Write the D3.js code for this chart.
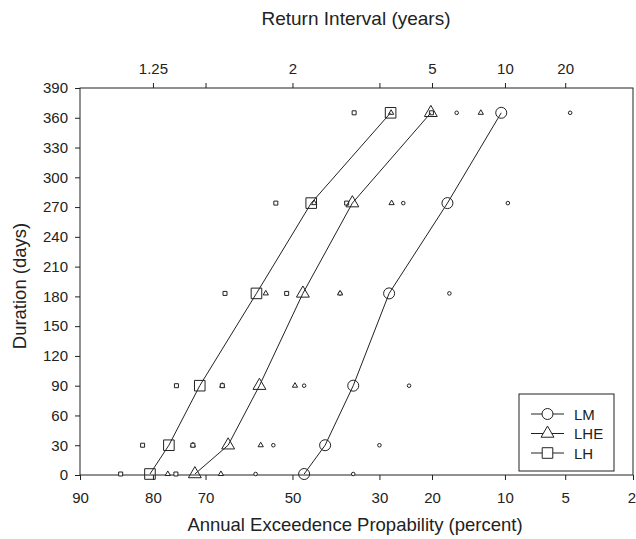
<!DOCTYPE html>
<html>
<head>
<meta charset="utf-8">
<script src="https://cdn.jsdelivr.net/npm/d3@7"></script>
<style>
  body { margin: 0; background: #fff; }
  svg text { font-family: Arial, "Liberation Sans", sans-serif; fill: #222; }
</style>
</head>
<body>
<svg width="636" height="539"></svg>
<script>
// durations (days) and annual exceedance probability (percent)
const durations = [1, 30, 90, 183, 274, 365];

const lmMain  = [47.2, 42.2, 35.7, 28.0, 17.5, 10.4];
const lmLeft  = [58.8, 54.6, 47.2, 38.7, 25.2, 16.1];
const lmRight = [35.7, 30.0, 24.1, 17.2, 9.7, 4.7];

const lheMain  = [72.2, 65.1, 57.9, 47.5, 35.9, 20.2];
const lheLeft  = [77.4, 72.6, 66.4, 56.4, 44.8, 27.6];
const lheRight = [66.7, 57.6, 49.4, 38.7, 27.5, 12.8];

const lhMain  = [80.5, 77.2, 71.2, 58.6, 45.5, 27.7];
const lhLeft  = [85.0, 81.7, 75.8, 65.8, 54.0, 35.5];
const lhRight = [75.9, 72.6, 66.4, 51.4, 37.2, 20.1];

const pctTicks = [90, 80, 70, 50, 30, 20, 10, 5, 2];
const returnTicks = [1.25, 2, 5, 10, 20];
const returnMinor = [100 / 70, 100 / 30];
const yTicks = d3.range(0, 391, 30);

(() => {

    // inverse normal cdf (Acklam)
    const probit = p => {
        const a = [-3.969683028665376e+01, 2.209460984245205e+02, -2.759285104469687e+02,
                1.383577518672690e+02, -3.066479806614716e+01, 2.506628277459239e+00],
            b = [-5.447609879822406e+01, 1.615858368580409e+02, -1.556989798598866e+02,
                6.680131188771972e+01, -1.328068155288572e+01],
            c = [-7.784894002430293e-03, -3.223964580411365e-01, -2.400758277161838e+00,
                -2.549732539343734e+00, 4.374664141464968e+00, 2.938163982698783e+00],
            d = [7.784695709041462e-03, 3.224671290700398e-01, 2.445134137142996e+00,
                3.754408661907416e+00];
        const pl = 0.02425;
        let q, r;
        if (p < pl) {
            q = Math.sqrt(-2 * Math.log(p));
            return (((((c[0]*q+c[1])*q+c[2])*q+c[3])*q+c[4])*q+c[5]) /
                ((((d[0]*q+d[1])*q+d[2])*q+d[3])*q+1);
        } else if (p <= 1 - pl) {
            q = p - 0.5; r = q * q;
            return (((((a[0]*r+a[1])*r+a[2])*r+a[3])*r+a[4])*r+a[5])*q /
                (((((b[0]*r+b[1])*r+b[2])*r+b[3])*r+b[4])*r+1);
        }
        q = Math.sqrt(-2 * Math.log(1 - p));
        return -(((((c[0]*q+c[1])*q+c[2])*q+c[3])*q+c[4])*q+c[5]) /
            ((((d[0]*q+d[1])*q+d[2])*q+d[3])*q+1);
    };
    const zOf = pct => probit(1 - pct / 100);

    const svg = d3.select('svg');
    const x0 = 80, x1 = 633, y0 = 88, y1 = 475;

    const x = d3.scaleLinear().domain([zOf(90), zOf(2)]).range([x0, x1]);
    const y = d3.scaleLinear().domain([0, 390]).range([y1, y0]);
    const px = pct => x(zOf(pct));

    const ink = '#222';

    // frame
    svg.append('rect')
        .attr('x', x0).attr('y', y0)
        .attr('width', x1 - x0).attr('height', y1 - y0)
        .attr('fill', 'none').attr('stroke', ink).attr('stroke-width', 1);

    const styleAxis = g => {
        g.select('.domain').remove();
        g.selectAll('line').attr('stroke', ink);
        g.selectAll('text').attr('font-size', 15).attr('fill', ink)
            .attr('font-family', 'Arial, "Liberation Sans", sans-serif');
    };

    const bottomAxis = svg.append('g')
        .attr('transform', `translate(0,${y1})`)
        .call(d3.axisBottom(x).tickValues(pctTicks.map(zOf))
            .tickFormat((d, i) => pctTicks[i]).tickSize(5).tickPadding(12))
        .call(styleAxis);
    // last label sits on the right edge, keep it inside
    bottomAxis.selectAll('.tick text')
        .filter((d, i) => i === pctTicks.length - 1)
        .attr('text-anchor', 'end')
        .attr('x', 2.5);

    const topVals = returnTicks.concat(returnMinor);
    svg.append('g')
        .attr('transform', `translate(0,${y0})`)
        .call(d3.axisTop(x).tickValues(topVals.map(t => zOf(100 / t)))
            .tickFormat((d, i) => i < returnTicks.length ? returnTicks[i] : '')
            .tickSize(5).tickPadding(9))
        .call(styleAxis);

    svg.append('g')
        .attr('transform', `translate(${x0},0)`)
        .call(d3.axisLeft(y).tickValues(yTicks).tickSize(5).tickPadding(7))
        .call(styleAxis);

    // axis titles
    svg.append('text')
        .attr('x', 356).attr('y', 25)
        .attr('text-anchor', 'middle').attr('font-size', 19)
        .text('Return Interval (years)');

    svg.append('text')
        .attr('x', 355).attr('y', 531)
        .attr('text-anchor', 'middle').attr('font-size', 18.5)
        .text('Annual Exceedence Propability (percent)');

    svg.append('text')
        .attr('transform', 'translate(26,286) rotate(-90)')
        .attr('text-anchor', 'middle').attr('font-size', 18.5)
        .text('Duration (days)');

    // marker shapes
    const shapes = {
        circle: d3.symbolCircle,
        triangle: d3.symbolTriangle,
        square: d3.symbolSquare
    };
    const bigSize = { circle: 95, triangle: 72, square: 112 };
    const smallSize = { circle: 10, triangle: 12, square: 16 };

    const series = [
        { name: 'LM', shape: 'circle', main: lmMain, extras: [lmLeft, lmRight] },
        { name: 'LHE', shape: 'triangle', main: lheMain, extras: [lheLeft, lheRight] },
        { name: 'LH', shape: 'square', main: lhMain, extras: [lhLeft, lhRight] }
    ];

    const line = d3.line()
        .x(d => px(d.p))
        .y(d => y(d.dur));

    const plot = svg.append('g');

    // small markers first
    series.forEach(s => {
        s.extras.forEach(arr => {
            plot.append('g')
                .selectAll('path')
                .data(arr.map((p, i) => ({ p, dur: durations[i] })))
                .enter().append('path')
                .attr('d', d3.symbol().type(shapes[s.shape]).size(smallSize[s.shape]))
                .attr('transform', d => `translate(${px(d.p)},${y(d.dur)})`)
                .attr('fill', 'white')
                .attr('stroke', ink)
                .attr('stroke-width', 1);
        });
    });

    series.forEach(s => {
        const pts = s.main.map((p, i) => ({ p, dur: durations[i] }));
        plot.append('path')
            .datum(pts)
            .attr('d', line)
            .attr('fill', 'none')
            .attr('stroke', ink)
            .attr('stroke-width', 1);

        plot.append('g')
            .selectAll('path')
            .data(pts)
            .enter().append('path')
            .attr('d', d3.symbol().type(shapes[s.shape]).size(bigSize[s.shape]))
            .attr('transform', d => `translate(${px(d.p)},${y(d.dur)})`)
            .attr('fill', 'none')
            .attr('stroke', ink)
            .attr('stroke-width', 1);
    });

    // legend
    const legend = svg.append('g');
    legend.append('rect')
        .attr('x', 519).attr('y', 394)
        .attr('width', 95).attr('height', 77)
        .attr('fill', 'white').attr('stroke', ink);

    series.forEach((s, i) => {
        const ly = 414 + i * 19.5;
        legend.append('line')
            .attr('x1', 531).attr('x2', 564)
            .attr('y1', ly).attr('y2', ly)
            .attr('stroke', ink);
        legend.append('path')
            .attr('d', d3.symbol().type(shapes[s.shape]).size(bigSize[s.shape]))
            .attr('transform', `translate(547.5,${ly})`)
            .attr('fill', 'white').attr('stroke', ink);
        legend.append('text')
            .attr('x', 574).attr('y', ly + 5.5)
            .attr('font-size', 15)
            .text(s.name);
    });

})();
</script>
</body>
</html>
